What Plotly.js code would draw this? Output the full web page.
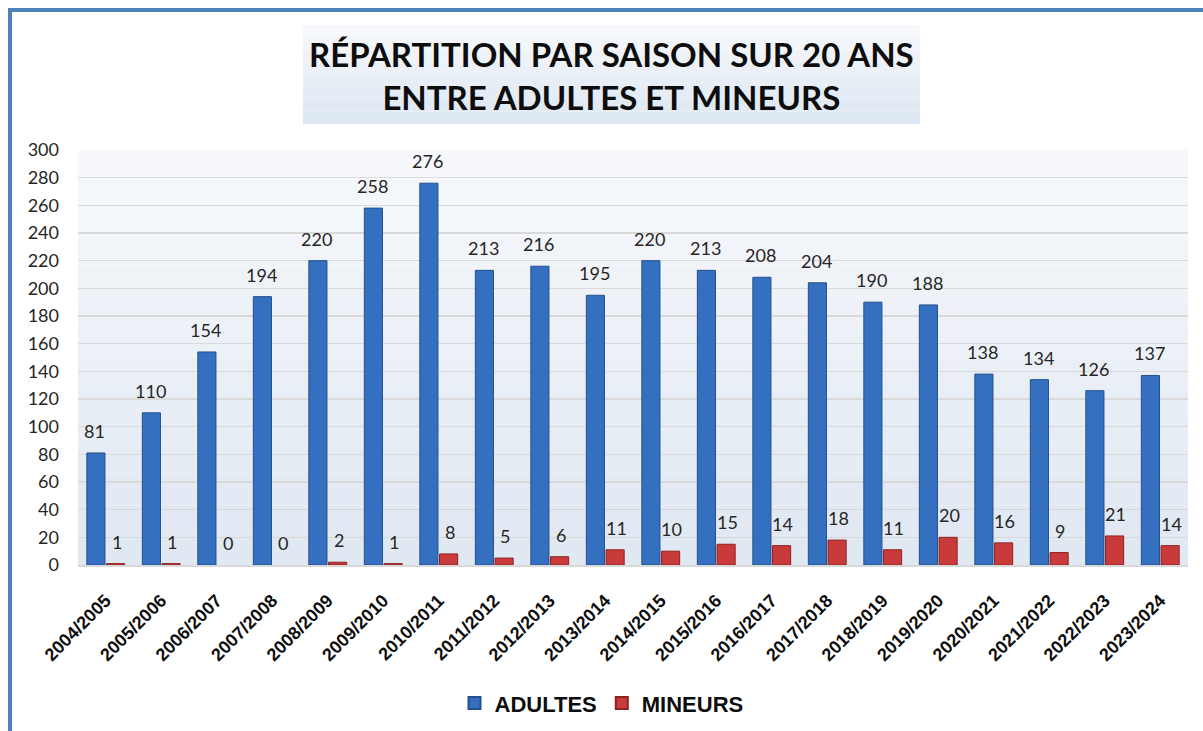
<!DOCTYPE html>
<html>
<head>
<meta charset="utf-8">
<script src="https://cdn.plot.ly/plotly-3.0.1.min.js"></script>
<style>
  html, body { margin: 0; padding: 0; background: #ffffff; }
  #wrap { position: relative; width: 1203px; height: 731px; overflow: hidden; }
  #chart { position: absolute; left: 0; top: 0; width: 1203px; height: 731px; }
  #frame { position: absolute; left: 8px; top: 8px; width: 1300px; height: 800px;
           border-left: 4px solid #4f81bd; border-top: 4px solid #4f81bd; pointer-events: none; }
</style>
</head>
<body>
<div id="wrap">
  <div id="chart"></div>
  <div id="frame"></div>
</div>
<script>
const seasons = ["2004/2005","2005/2006","2006/2007","2007/2008","2008/2009","2009/2010","2010/2011",
  "2011/2012","2012/2013","2013/2014","2014/2015","2015/2016","2016/2017","2017/2018","2018/2019",
  "2019/2020","2020/2021","2021/2022","2022/2023","2023/2024"];
const adultes = [81,110,154,194,220,258,276,213,216,195,220,213,208,204,190,188,138,134,126,137];
const mineurs = [1,1,0,0,2,1,8,5,6,11,10,15,14,18,11,20,16,9,21,14];
const yTicks = [0,20,40,60,80,100,120,140,160,180,200,220,240,260,280,300];
const titleText = "RÉPARTITION PAR SAISON SUR 20 ANS<br>ENTRE ADULTES ET MINEURS";
const seriesNames = ["ADULTES","MINEURS"];

const labelFont = {family: "Lato, 'Noto Sans', sans-serif", size: 18, color: "#262626"};

const traces = [
  {type: "bar", name: seriesNames[0], x: seasons, y: adultes,
   marker: {color: "#3470bf", line: {color: "#22508c", width: adultes.map(v => v === 0 ? 0 : 1)}}, hoverinfo: "x+y"},
  {type: "bar", name: seriesNames[1], x: seasons, y: mineurs,
   marker: {color: "#c93a3a", line: {color: "#8e2222", width: mineurs.map(v => v === 0 ? 0 : 1)}}, hoverinfo: "x+y"}
];

const annotations = [];
seasons.forEach((s, i) => {
  annotations.push({x: s, y: adultes[i], xref: "x", yref: "y", text: String(adultes[i]),
    showarrow: false, xshift: -11, yshift: 9, yanchor: "bottom", font: labelFont});
  annotations.push({x: s, y: mineurs[i], xref: "x", yref: "y", text: String(mineurs[i]),
    showarrow: false, xshift: 11, yshift: 9, yanchor: "bottom", font: labelFont});
});
annotations.push({xref: "paper", yref: "paper", x: 0.4805, y: 1.18, text: titleText,
  showarrow: false, xanchor: "center", yanchor: "middle", align: "center",
  font: {family: "Lato, 'Noto Sans', sans-serif", size: 33, color: "#0d0d0d", weight: "bold"}});

// background gradient bands (plot area and title box)
const shapes = [];
function lerp(a, b, t) { return Math.round(a + (b - a) * t); }
function col(c1, c2, t) {
  return "rgb(" + lerp(c1[0], c2[0], t) + "," + lerp(c1[1], c2[1], t) + "," + lerp(c1[2], c2[2], t) + ")";
}
const nb = 14;
for (let k = 0; k < nb; k++) {
  shapes.push({type: "rect", xref: "paper", yref: "paper", x0: 0, x1: 1,
    y0: 1 - (k + 1) / nb, y1: 1 - k / nb, line: {width: 0}, layer: "below",
    fillcolor: col([246, 248, 251], [224, 232, 242], k / (nb - 1))});
}
const tb0 = 1.0627, tb1 = 1.301, tn = 8;
for (let k = 0; k < tn; k++) {
  shapes.push({type: "rect", xref: "paper", yref: "paper", x0: 0.2027, x1: 0.7586,
    y0: tb1 - (k + 1) * (tb1 - tb0) / tn, y1: tb1 - k * (tb1 - tb0) / tn, line: {width: 0}, layer: "below",
    fillcolor: col([246, 248, 251], [221, 231, 242], k / (tn - 1))});
}

const layout = {
  width: 1203, height: 731,
  margin: {l: 78, r: 15, t: 150, b: 166, pad: 0, autoexpand: false},
  paper_bgcolor: "#ffffff", plot_bgcolor: "rgba(0,0,0,0)",
  barmode: "group", bargap: 0.29, bargroupgap: 0.08,
  showlegend: true,
  legend: {orientation: "h", xref: "container", yref: "container", x: 0.5, xanchor: "center",
    y: 0.038, yanchor: "middle",
    font: {family: "'Liberation Sans', Arial, sans-serif", size: 22, color: "#0d0d0d", weight: "bold"},
    itemsizing: "constant", traceorder: "normal", itemwidth: 30},
  xaxis: {type: "category", tickangle: -45, showgrid: false, zeroline: false, automargin: false,
    showline: true, linecolor: "#d9d9d9", linewidth: 2, ticks: "", ticklabelstandoff: 16,
    tickfont: {family: "'Liberation Sans', Arial, sans-serif", size: 18, color: "#0d0d0d", weight: "bold"}},
  yaxis: {range: [0, 300], tickvals: yTicks, ticktext: yTicks.map(String), showgrid: true, automargin: false,
    gridcolor: "#d9d9d9", gridwidth: 1.5, zeroline: false, showline: false, ticks: "",
    ticklabelstandoff: 18,
    tickfont: {family: "Lato, 'Noto Sans', sans-serif", size: 18, color: "#262626"}},
  annotations: annotations,
  shapes: shapes
};

Plotly.newPlot("chart", traces, layout, {displayModeBar: false, staticPlot: true});
</script>
</body>
</html>
